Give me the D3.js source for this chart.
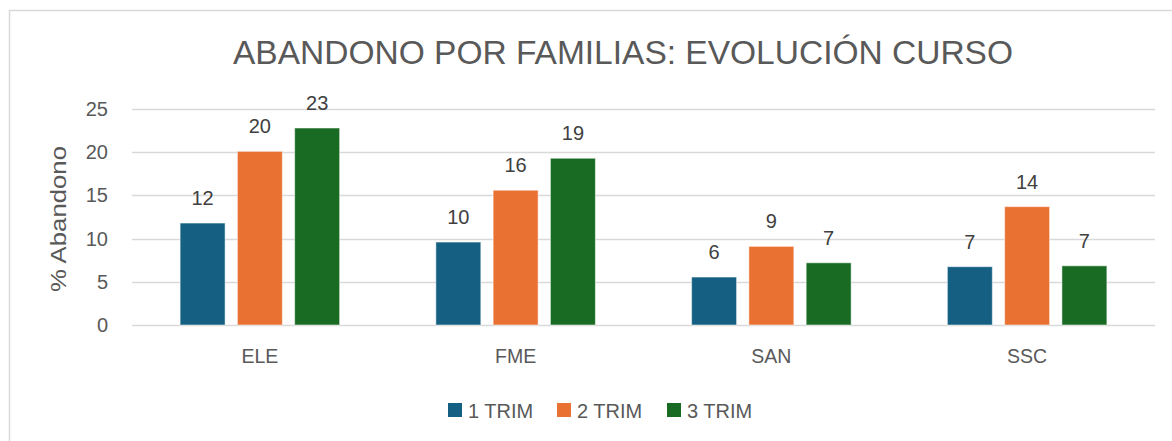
<!DOCTYPE html>
<html>
<head>
<meta charset="utf-8">
<script src="https://cdn.jsdelivr.net/npm/d3@7"></script>
<style>
  body { margin: 0; background: #fff; }
  text { font-family: "Liberation Sans", Arial, sans-serif; fill: #595959; }
</style>
</head>
<body>
<div id="chart"></div>
<script>
var width = 1172, height = 441;

// data
var familias = ["ELE", "FME", "SAN", "SSC"];
var series = ["1 TRIM", "2 TRIM", "3 TRIM"];
var trim1 = [11.8, 9.6, 5.55, 6.75];
var trim2 = [20.1, 15.6, 9.1, 13.7];
var trim3 = [22.8, 19.3, 7.2, 6.85];
var yTicks = [0, 5, 10, 15, 20, 25];
var colors = ["#156082", "#E97132", "#196B24"];

var rows = familias.map(function(f, i) {
    return { fam: f, vals: [trim1[i], trim2[i], trim3[i]] };
});

var svg = d3.select("#chart").append("svg")
    .attr("width", width).attr("height", height);

// chart area border (runs off right/bottom edge)
svg.append("rect")
    .attr("x", 9.5).attr("y", 10.5)
    .attr("width", 1200).attr("height", 500)
    .attr("fill", "none").attr("stroke", "#d9d9d9").attr("stroke-width", 1.5);

var x0 = d3.scaleBand().domain(familias).range([132, 1155]).padding(0);
var x1 = d3.scaleBand().domain(series).range([0, x0.bandwidth()])
    .paddingInner(0.215).paddingOuter(0.84);
var y = d3.scaleLinear().domain([0, 25]).range([325, 109]);
var fmt = d3.format(".0f");

// gridlines
svg.selectAll(".grid")
    .data(yTicks)
    .enter()
    .append("line")
    .attr("x1", 132).attr("x2", 1155)
    .attr("y1", d => Math.round(y(d)) + 0.5)
    .attr("y2", d => Math.round(y(d)) + 0.5)
    .attr("stroke", "#d9d9d9").attr("stroke-width", 1.5);

// y tick labels
svg.selectAll(".ytick")
    .data(yTicks)
    .enter()
    .append("text")
    .attr("x", 108)
    .attr("y", d => y(d) + 7)
    .attr("text-anchor", "end")
    .style("font-size", "20px")
    .text(d => d);

// bars
var g = svg.selectAll(".grp")
    .data(rows)
    .enter()
    .append("g")
    .attr("transform", d => "translate(" + x0(d.fam) + ",0)");

g.selectAll("rect")
    .data(d => d.vals.map((v, i) => ({ s: series[i], v: v, i: i })))
    .enter()
    .append("rect")
    .attr("x", d => x1(d.s))
    .attr("width", x1.bandwidth())
    .attr("y", d => y(d.v))
    .attr("height", d => y(0) - y(d.v))
    .attr("fill", d => colors[d.i])
    .attr("stroke", "#ffffff").attr("stroke-opacity", 0.5).attr("stroke-width", 1);

g.selectAll(".val")
    .data(d => d.vals.map((v, i) => ({ s: series[i], v: v, i: i })))
    .enter()
    .append("text")
    .attr("x", d => x1(d.s) + x1.bandwidth() / 2)
    .attr("y", d => y(d.v) - 18)
    .attr("text-anchor", "middle")
    .style("font-size", "20px")
    .style("fill", "#404040")
    .text(d => fmt(d.v));

// x labels
svg.selectAll(".xlab")
    .data(familias)
    .enter()
    .append("text")
    .attr("x", d => x0(d) + x0.bandwidth() / 2)
    .attr("y", 363)
    .attr("text-anchor", "middle")
    .style("font-size", "19.5px")
    .text(d => d);

// y axis title
svg.append("text")
    .attr("transform", "translate(66,219) rotate(-90)")
    .attr("text-anchor", "middle")
    .attr("textLength", 146)
    .attr("lengthAdjust", "spacingAndGlyphs")
    .style("font-size", "22px")
    .text("% Abandono");

// title
svg.append("text")
    .attr("x", 623).attr("y", 63.5)
    .attr("text-anchor", "middle")
    .style("font-size", "33.5px")
    .text("ABANDONO POR FAMILIAS: EVOLUCIÓN CURSO");

// legend
var legX = [448, 557, 667];
var leg = svg.selectAll(".leg")
    .data(series)
    .enter()
    .append("g")
    .attr("transform", (d, i) => "translate(" + legX[i] + ",403)");
leg.append("rect")
    .attr("width", 14).attr("height", 14)
    .attr("fill", (d, i) => colors[i]);
leg.append("text")
    .attr("x", 20).attr("y", 14.5)
    .style("font-size", "20px")
    .text(d => d);
</script>
</body>
</html>
